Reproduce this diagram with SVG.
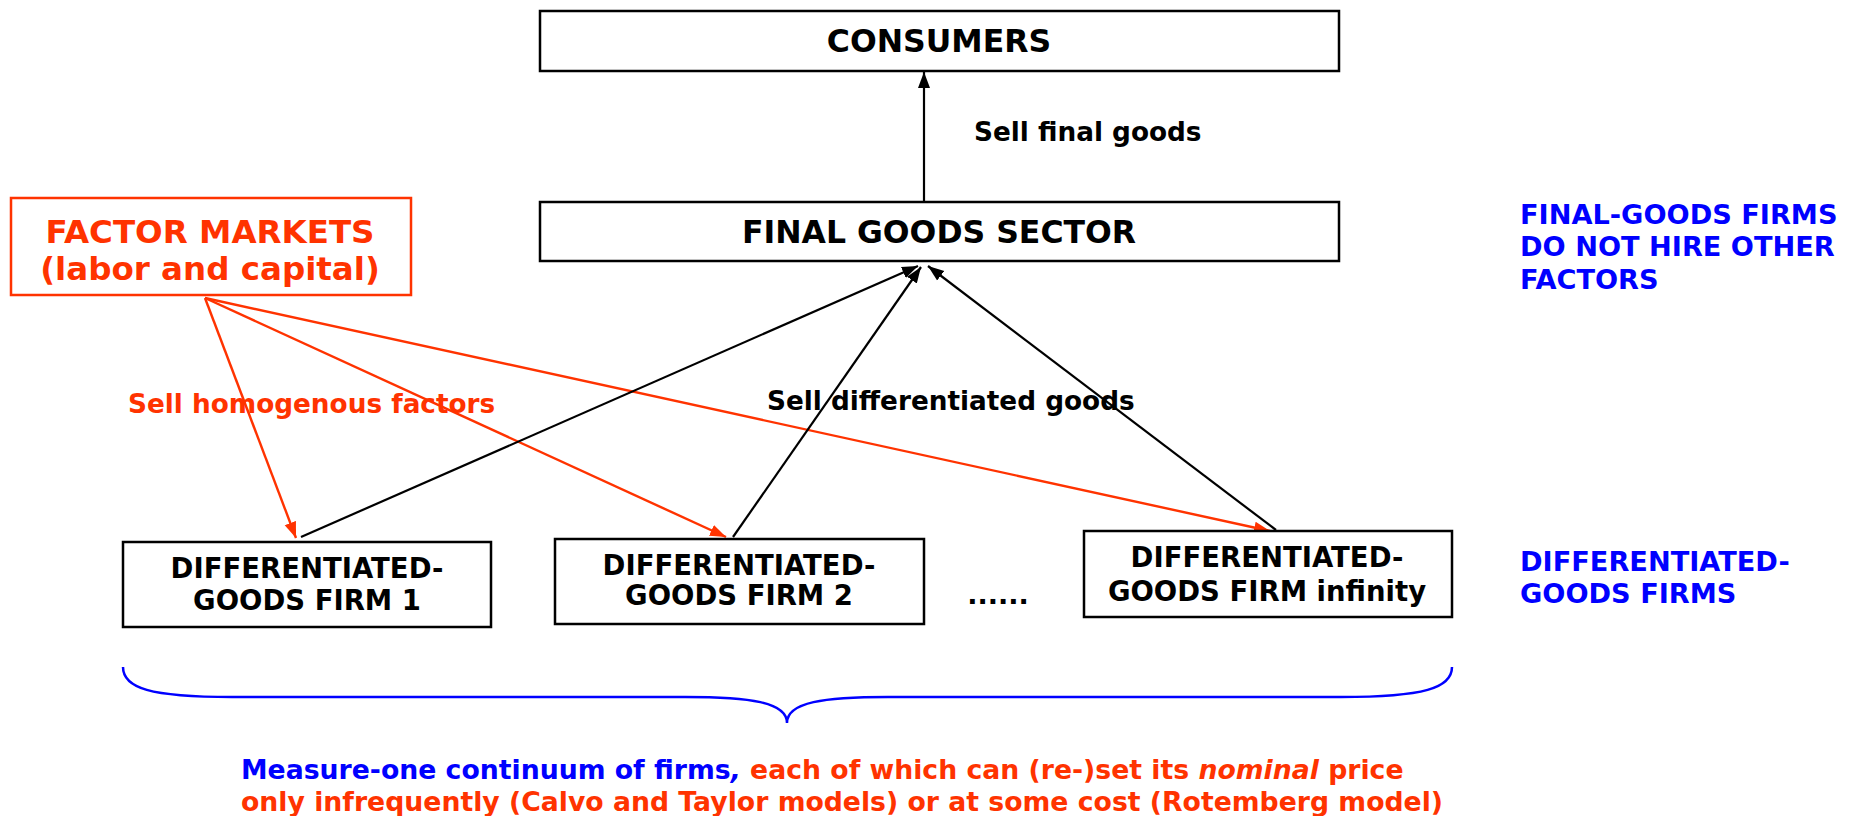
<svg xmlns="http://www.w3.org/2000/svg" width="1852" height="816" viewBox="0 0 1852 816">
<defs>
<style>
text{font-family:"DejaVu Sans","Verdana",sans-serif;font-weight:bold}
.box{fill:#fff;stroke:#000;stroke-width:2.5}
.rbox{fill:#fff;stroke:#FF3300;stroke-width:2.5}
.blk{fill:#000}
.red{fill:#FF3300}
.blue{fill:#0000FF}
.bl{stroke:#000;stroke-width:2.2;fill:none}
.rl{stroke:#FF3300;stroke-width:2.4;fill:none}
</style>
<marker id="ab" markerUnits="userSpaceOnUse" markerWidth="18" markerHeight="14" refX="16" refY="7" orient="auto"><path d="M0,1 L16,7 L0,13 z" fill="#000"/></marker>
<marker id="ar" markerUnits="userSpaceOnUse" markerWidth="18" markerHeight="14" refX="16" refY="7" orient="auto"><path d="M0,1 L16,7 L0,13 z" fill="#FF3300"/></marker>
</defs>
<rect width="1852" height="816" fill="#fff"/>

<g id="connectors">
<line class="bl" x1="924" y1="202" x2="924" y2="72" marker-end="url(#ab)"/>
<line class="rl" x1="205" y1="298" x2="296" y2="538" marker-end="url(#ar)"/>
<line class="rl" x1="205" y1="298" x2="726" y2="537" marker-end="url(#ar)"/>
<line class="rl" x1="205" y1="298" x2="1270" y2="531" marker-end="url(#ar)"/>
<line class="bl" x1="301" y1="537" x2="918" y2="266" marker-end="url(#ab)"/>
<line class="bl" x1="733" y1="537" x2="921" y2="267" marker-end="url(#ab)"/>
<line class="bl" x1="1276" y1="530" x2="928" y2="266" marker-end="url(#ab)"/>
</g>

<g id="consumers">
<rect class="box" x="540" y="11" width="799" height="60"/>
<text class="blk" x="939" y="52" font-size="31.5" text-anchor="middle">CONSUMERS</text>
</g>
<g id="final-goods-sector">
<rect class="box" x="540" y="202" width="799" height="59"/>
<text class="blk" x="939" y="243" font-size="31.5" text-anchor="middle">FINAL GOODS SECTOR</text>
</g>
<g id="factor-markets">
<rect class="rbox" x="11" y="198" width="400" height="97"/>
<text class="red" x="210" y="243" font-size="32.5" text-anchor="middle">FACTOR MARKETS</text>
<text class="red" x="210" y="280" font-size="32.5" text-anchor="middle">(labor and capital)</text>
</g>
<g id="firm-1">
<rect class="box" x="123" y="542" width="368" height="85"/>
<text class="blk" x="307" y="578" font-size="27.5" text-anchor="middle">DIFFERENTIATED-</text>
<text class="blk" x="307" y="610" font-size="27.5" text-anchor="middle">GOODS FIRM 1</text>
</g>
<g id="firm-2">
<rect class="box" x="555" y="539" width="369" height="85"/>
<text class="blk" x="739" y="575" font-size="27.5" text-anchor="middle">DIFFERENTIATED-</text>
<text class="blk" x="739" y="605" font-size="27.5" text-anchor="middle">GOODS FIRM 2</text>
</g>
<g id="firm-infinity">
<rect class="box" x="1084" y="531" width="368" height="86"/>
<text class="blk" x="1267" y="567" font-size="27.5" text-anchor="middle">DIFFERENTIATED-</text>
<text class="blk" x="1267" y="601" font-size="27.5" text-anchor="middle">GOODS FIRM infinity</text>
</g>
<g id="dots">
<text class="blk" x="998" y="604" font-size="27" text-anchor="middle">......</text>
</g>

<g id="labels">
<text class="blk" x="974" y="141" font-size="26.3">Sell final goods</text>
<text class="red" x="128" y="413" font-size="26.3">Sell homogenous factors</text>
<text class="blk" x="767" y="410" font-size="26.3">Sell differentiated goods</text>
<text class="blue" x="1520" y="224" font-size="27.2">FINAL-GOODS FIRMS</text>
<text class="blue" x="1520" y="256" font-size="27.2">DO NOT HIRE OTHER</text>
<text class="blue" x="1520" y="289" font-size="27.2">FACTORS</text>
<text class="blue" x="1520" y="571" font-size="27.2">DIFFERENTIATED-</text>
<text class="blue" x="1520" y="603" font-size="27.2">GOODS FIRMS</text>
</g>

<g id="brace">
<path d="M123,667 C123,688 150,697 232,697 L685,697 C750,697 787,702 787,723 C787,702 824,697 888,697 L1341,697 C1424,697 1452,688 1452,667" fill="none" stroke="#0000FF" stroke-width="2.5"/>
</g>

<g id="caption">
<text x="241" y="779" font-size="26.7"><tspan class="blue">Measure-one continuum of firms</tspan><tspan class="blue" font-style="italic">,</tspan><tspan class="red"> each of which can (re-)set its </tspan><tspan class="red" font-style="italic">nominal</tspan><tspan class="red"> price</tspan></text>
<text class="red" x="241" y="811" font-size="26.7">only infrequently (Calvo and Taylor models) or at some cost (Rotemberg model)</text>
</g>
</svg>
